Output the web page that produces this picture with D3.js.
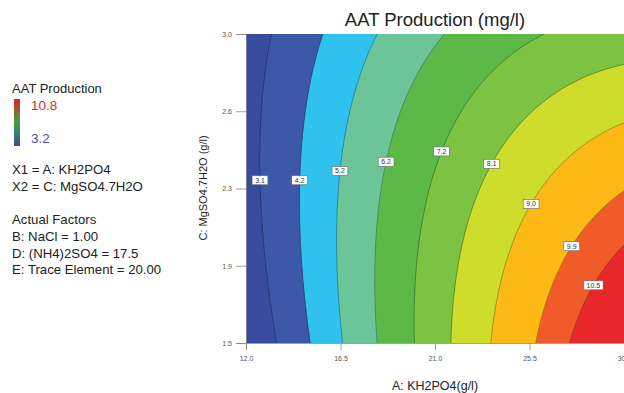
<!DOCTYPE html>
<html>
<head>
<meta charset="utf-8">
<script src="https://cdn.jsdelivr.net/npm/d3@7"></script>
<style>
body { margin: 0; background: #fff; font-family: "Liberation Sans", Arial, sans-serif; }
</style>
</head>
<body>
<svg id="chart" width="624" height="393"></svg>
<script>
// contour levels (as labelled) and band colours, low to high
const levels = [3.1, 4.2, 5.2, 6.2, 7.2, 8.1, 9.0, 9.9, 10.5];
const bandColors = ["#394b9f", "#3e58a9", "#30c2ef", "#6cc598", "#5cb947", "#7cc243", "#cedc2c", "#fdb916", "#f15a29", "#e7272b"];
// MgSO4 value where each contour label sits
const labelC = [2.29, 2.29, 2.335, 2.38, 2.43, 2.37, 2.175, 1.97, 1.78];
const xTicks = [12.0, 16.5, 21.0, 25.5, 30.0];
const yTicks = [1.5, 1.875, 2.25, 2.625, 3.0];
// quadratic response model in coded units: 1, A, C, AC, A^2, C^2
const modelCoef = [7.307, 3.595, -0.822, -1.050, -1.032, -0.411];
const legendLines = ["X1 = A: KH2PO4", "X2 = C: MgSO4.7H2O", "", "Actual Factors", "B: NaCl = 1.00", "D: (NH4)2SO4 = 17.5", "E: Trace Element = 20.00"];

function model(A, C) {
  const a = (A - 21) / 9, c = (C - 2.25) / 0.75;
  const t = [1, a, c, a * c, a * a, c * c];
  return d3.sum(t, (v, i) => v * modelCoef[i]);
}

const svg = d3.select("#chart");
const x = d3.scaleLinear().domain([12, 30]).range([246, 624]);
const y = d3.scaleLinear().domain([1.5, 3.0]).range([343, 34]);

// sample the surface on a grid a little larger than the plot, then clip
const nxBase = 200, nyBase = 160, pad = 3;
const nx = nxBase + 2 * pad, ny = nyBase + 2 * pad;
const dA = 18 / nxBase, dC = 1.5 / nyBase;
const grid = new Array(nx * ny);
for (let j = 0; j < ny; j++) {
  for (let i = 0; i < nx; i++) {
    grid[j * nx + i] = model(12 + (i - pad + 0.5) * dA, 3.0 - (j - pad + 0.5) * dC);
  }
}
const proj = d3.geoTransform({
  point(u, v) { this.stream.point(x(12 + (u - pad) * dA), y(3.0 - (v - pad) * dC)); }
});
const path = d3.geoPath(proj);
const contours = d3.contours().size([nx, ny]).thresholds(levels)(grid);

svg.append("clipPath").attr("id", "plotClip")
  .append("rect").attr("x", 246).attr("y", 34).attr("width", 378).attr("height", 309);

const plot = svg.append("g").attr("clip-path", "url(#plotClip)");
plot.append("rect").attr("x", 246).attr("y", 34).attr("width", 378).attr("height", 309)
  .attr("fill", bandColors[0]);
plot.selectAll("path.band").data(contours).enter().append("path")
  .attr("class", "band")
  .attr("d", path)
  .attr("fill", (d, i) => bandColors[i + 1]);
plot.selectAll("path.line").data(contours).enter().append("path")
  .attr("class", "line")
  .attr("d", path)
  .attr("fill", "none")
  .attr("stroke", (d, i) => d3.color(bandColors[i]).darker(1.3))
  .attr("stroke-width", 0.8);

// contour labels, placed on each contour at its labelC height
levels.forEach((lv, i) => {
  const C = labelC[i];
  let lo = 10, hi = 32;
  for (let k = 0; k < 40; k++) {
    const mid = (lo + hi) / 2;
    if (model(mid, C) < lv) lo = mid; else hi = mid;
  }
  const txt = lv.toFixed(1);
  const w = txt.length * 3.6 + 5;
  const g = svg.append("g").attr("transform", `translate(${x(lo)},${y(C)})`);
  g.append("rect").attr("x", -w / 2).attr("y", -4.5).attr("width", w).attr("height", 9)
    .attr("fill", "#fff").attr("stroke", "#666").attr("stroke-width", 0.6);
  g.append("text").attr("text-anchor", "middle").attr("y", 2.5)
    .attr("font-size", 7).attr("fill", "#333").text(txt);
});

// axes
const xAxis = d3.axisBottom(x).tickValues(xTicks).tickFormat(d3.format(".1f")).tickSize(7).tickPadding(6);
const yAxis = d3.axisLeft(y).tickValues(yTicks).tickFormat(d3.format(".1f")).tickSize(10).tickPadding(4);
svg.append("g").attr("transform", "translate(0,343)").call(xAxis)
  .call(g => g.selectAll("text").attr("font-size", 7).attr("fill", "#555"))
  .call(g => g.selectAll("line,path").attr("stroke", "#888").attr("stroke-width", 0.8));
svg.append("g").attr("transform", "translate(246,0)").call(yAxis)
  .call(g => g.selectAll("text").attr("font-size", 7).attr("fill", "#555"))
  .call(g => g.selectAll("line,path").attr("stroke", "#888").attr("stroke-width", 0.8));

svg.append("text").attr("x", 435).attr("y", 26).attr("text-anchor", "middle")
  .attr("font-size", 18.5).attr("fill", "#222").text("AAT Production (mg/l)");
svg.append("text").attr("x", 435).attr("y", 390).attr("text-anchor", "middle")
  .attr("font-size", 12.5).attr("fill", "#222").text("A: KH2PO4(g/l)");
svg.append("text").attr("transform", "translate(207,188) rotate(-90)").attr("text-anchor", "middle")
  .attr("font-size", 11).attr("fill", "#222").text("C: MgSO4.7H2O (g/l)");

// legend
const grad = svg.append("defs").append("linearGradient").attr("id", "legGrad")
  .attr("x1", 0).attr("y1", 0).attr("x2", 0).attr("y2", 1);
[["0%", "#e41f26"], ["50%", "#3aa648"], ["100%", "#3a4fa0"]].forEach(([o, c]) =>
  grad.append("stop").attr("offset", o).attr("stop-color", c));
svg.append("text").attr("x", 12).attr("y", 93).attr("font-size", 13).attr("fill", "#222").text("AAT Production");
svg.append("rect").attr("x", 14).attr("y", 99).attr("width", 6).attr("height", 47).attr("fill", "url(#legGrad)");
svg.append("text").attr("x", 31).attr("y", 110).attr("font-size", 13.5).attr("fill", "#e8262a").text("10.8");
svg.append("text").attr("x", 31).attr("y", 143).attr("font-size", 13.5).attr("fill", "#4a4fa8").text("3.2");
legendLines.forEach((t, i) => {
  svg.append("text").attr("x", 12).attr("y", 174 + i * 16.7).attr("font-size", 13.2).attr("fill", "#222").text(t);
});
</script>
</body>
</html>
